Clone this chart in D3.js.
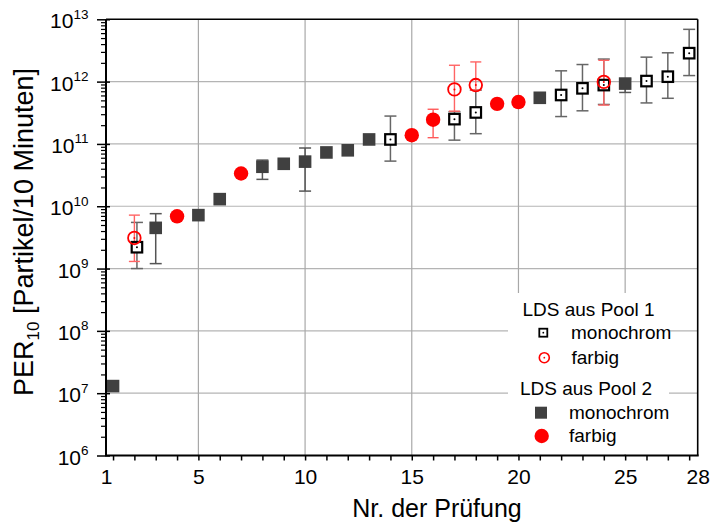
<!DOCTYPE html>
<html>
<head>
<meta charset="utf-8">
<script src="https://cdn.jsdelivr.net/npm/d3@7"></script>
<style>
  body { margin: 0; background: #fff; }
  svg text { font-family: "Liberation Sans", Arial, sans-serif; fill: #000; }
</style>
</head>
<body>
<svg id="chart" width="712" height="527"></svg>
<script>
// [Nr., value, lower, upper]  (null = no error bar)
var pool1Mono = [
	[2.12, 2.2e9, 1.0e9, 5.5e9],
	[14, 1.18e11, 5.3e10, 2.8e11],
	[17, 2.5e11, 1.15e11, 3.3e11],
	[18, 3.2e11, 1.46e11, 7.3e11],
	[22, 6.1e11, 2.75e11, 1.49e12],
	[23, 7.8e11, 3.4e11, 1.88e12],
	[24, 8.8e11, 4.3e11, 2.3e12],
	[26, 1.02e12, 4.55e11, 2.47e12],
	[27, 1.2e12, 5.4e11, 2.9e12],
	[28, 2.86e12, 1.25e12, 6.9e12]
];
var pool1Color = [
	[2, 3.1e9, 1.3e9, 7.2e9],
	[17, 7.5e11, 3.35e11, 1.83e12],
	[18, 8.8e11, 7.3e11, 2.07e12],
	[24, 9.9e11, 4.2e11, 2.2e12]
];
var pool2Mono = [
	[1, 1.3e7, null, null],
	[3, 4.5e9, 1.2e9, 7.6e9],
	[5, 7.2e9, null, null],
	[6, 1.3e10, null, null],
	[8, 4.3e10, 2.7e10, 5.5e10],
	[9, 4.8e10, null, null],
	[10, 5.2e10, 1.75e10, 8.6e10],
	[11, 7.3e10, null, null],
	[12, 7.9e10, null, null],
	[13, 1.18e11, null, null],
	[21, 5.5e11, null, null],
	[25, 9.3e11, 6.7e11, 1.1e12]
];
var pool2Color = [
	[4, 6.9e9, null, null],
	[7, 3.35e10, null, null],
	[15, 1.38e11, null, null],
	[16, 2.45e11, 1.26e11, 3.6e11],
	[19, 4.4e11, null, null],
	[20, 4.7e11, null, null]
];
var xTicks = [1, 5, 10, 15, 20, 25, 28];
var yDecades = [6, 7, 8, 9, 10, 11, 12, 13];

var svg = d3.select("#chart");
var pLeft = 106, pRight = 697.7, pTop = 19.3, pBottom = 455.5;

var x = d3.scaleLinear().domain([0.67, 28.4]).range([pLeft, pRight]);
var y = d3.scaleLog().domain([1e6, 1e13]).range([pBottom, pTop]);

// the first and last labels sit on the axis ends
function tickPos(v) {
	if (v == 1) return x.domain()[0];
	if (v == 28) return x.domain()[1];
	return v;
}

// grid
var grid = svg.append("g");
grid.selectAll(".hg")
  .data(yDecades.slice(1, -1))
  .enter().append("line")
  .attr("x1", pLeft).attr("x2", pRight)
  .attr("y1", d=>y(Math.pow(10, d))).attr("y2", d=>y(Math.pow(10, d)))
  .style("stroke", "#b4b4b4").style("stroke-width", 1.2);
grid.selectAll(".vg")
  .data(xTicks.slice(1, -1))
  .enter().append("line")
  .attr("x1", d=>x(d)).attr("x2", d=>x(d))
  .attr("y1", pTop).attr("y2", pBottom)
  .style("stroke", "#a8a8a8").style("stroke-width", 1.2);

// error bars
function errorBars(data, color, width, cap) {
	var g = svg.append("g")
	  .style("stroke", color)
	  .style("stroke-width", width);
	var rows = data.filter(d=>d[2] != null);
	g.selectAll(".bar").data(rows).enter().append("line")
	  .attr("x1", d=>x(d[0])).attr("x2", d=>x(d[0]))
	  .attr("y1", d=>y(d[2])).attr("y2", d=>y(d[3]));
	[2, 3].forEach(k=>{
		g.selectAll(".cap" + k).data(rows).enter().append("line")
		  .attr("x1", d=>x(d[0]) - cap / 2).attr("x2", d=>x(d[0]) + cap / 2)
		  .attr("y1", d=>y(d[k])).attr("y2", d=>y(d[k]));
	});
}
errorBars(pool2Mono, "#555", 1.5, 12);
errorBars(pool1Mono, "#666", 1.5, 12);
errorBars(pool2Color, "#ff5a5a", 1.4, 11);
errorBars(pool1Color, "#ff6464", 1.4, 11);

// markers
function filledSquares(g, data) {
	g.selectAll(".fs").data(data).enter().append("rect")
	  .attr("x", d=>x(d[0]) - 6.3).attr("y", d=>y(d[1]) - 6.3)
	  .attr("width", 12.6).attr("height", 12.6)
	  .style("fill", "#404040");
}
function filledCircles(g, data) {
	g.selectAll(".fc").data(data).enter().append("circle")
	  .attr("cx", d=>x(d[0])).attr("cy", d=>y(d[1])).attr("r", 7.2)
	  .style("fill", "#ff0000");
}
function openSquares(g, data, s) {
	g.selectAll(".os").data(data).enter().append("rect")
	  .attr("x", d=>x(d[0]) - s / 2).attr("y", d=>y(d[1]) - s / 2)
	  .attr("width", s).attr("height", s)
	  .style("fill", "#fff").style("stroke", "#000").style("stroke-width", 2.2);
	g.selectAll(".osd").data(data).enter().append("circle")
	  .attr("cx", d=>x(d[0])).attr("cy", d=>y(d[1])).attr("r", 1)
	  .style("fill", "#000");
}
function openCircles(g, data, r) {
	g.selectAll(".oc").data(data).enter().append("circle")
	  .attr("cx", d=>x(d[0])).attr("cy", d=>y(d[1])).attr("r", r)
	  .style("fill", "none").style("stroke", "#ff0000").style("stroke-width", 1.8);
	g.selectAll(".ocd").data(data).enter().append("circle")
	  .attr("cx", d=>x(d[0])).attr("cy", d=>y(d[1])).attr("r", 1)
	  .style("fill", "#ff0000");
}
var marks = svg.append("g");
filledSquares(marks, pool2Mono);
filledCircles(marks, pool2Color);
openSquares(marks, pool1Mono, 10.5);
openCircles(marks, pool1Color, 6.3);

// axes
var xMinor = d3.range(1, 29);
svg.append("g")
  .attr("transform", "translate(0," + pBottom + ")")
  .call(d3.axisBottom(x).tickValues(xMinor).tickSize(5).tickFormat(""))
  .call(g=>g.select(".domain").remove())
  .selectAll("line").style("stroke-width", 1.5);
var xAxis = svg.append("g")
  .attr("transform", "translate(0," + pBottom + ")")
  .call(d3.axisBottom(x)
    .tickValues(xTicks.map(tickPos))
    .tickSize(0).tickPadding(14)
    .tickFormat((d, i)=>xTicks[i]));
xAxis.select(".domain").remove();
xAxis.selectAll("text").style("font-size", "21px").attr("dy", "0.71em");

var yMinor = [];
yDecades.slice(0, -1).forEach(p=>{
	for (var m = 2; m < 10; m++) yMinor.push(m * Math.pow(10, p));
});
svg.append("g")
  .attr("transform", "translate(" + pLeft + ",0)")
  .call(d3.axisLeft(y).tickValues(yMinor).tickSize(5).tickFormat(""))
  .call(g=>g.select(".domain").remove())
  .selectAll("line").style("stroke-width", 1.2);
var yAxis = svg.append("g")
  .attr("transform", "translate(" + pLeft + ",0)")
  .call(d3.axisLeft(y)
    .tickValues(yDecades.map(p=>Math.pow(10, p)))
    .tickSize(9).tickPadding(9).tickFormat(""));
yAxis.select(".domain").remove();
yAxis.selectAll("line").attr("x2", -9).attr("x1", 4).style("stroke-width", 1.5);
yAxis.selectAll(".tick").each(function(d) {
	var t = d3.select(this).select("text")
	  .attr("x", -17.5).attr("dy", null)
	  .style("font-size", "21px").style("text-anchor", "end");
	t.append("tspan").attr("dy", "8.5").text("10");
	t.append("tspan").attr("dy", "-9.5").style("font-size", "13.5px")
	  .text(Math.round(Math.log10(d)));
});

// frame
svg.append("line").attr("x1", pLeft).attr("x2", pLeft).attr("y1", pTop).attr("y2", pBottom)
  .style("stroke", "#000").style("stroke-width", 2);
svg.append("line").attr("x1", pLeft - 1).attr("x2", pRight + 1).attr("y1", pBottom).attr("y2", pBottom)
  .style("stroke", "#000").style("stroke-width", 2);
svg.append("line").attr("x1", pLeft).attr("x2", pRight).attr("y1", pTop).attr("y2", pTop)
  .style("stroke", "#000").style("stroke-width", 1.6);
svg.append("line").attr("x1", pRight).attr("x2", pRight).attr("y1", pTop).attr("y2", pBottom)
  .style("stroke", "#000").style("stroke-width", 1.6);

// axis titles
svg.append("text")
  .attr("x", 437).attr("y", 517)
  .style("text-anchor", "middle").style("font-size", "25px")
  .text("Nr. der Prüfung");
var yt = svg.append("text")
  .attr("transform", "translate(33,232) rotate(-90)")
  .style("text-anchor", "middle").style("font-size", "27px");
yt.append("tspan").text("PER");
yt.append("tspan").attr("dy", 6).style("font-size", "17px").text("10");
yt.append("tspan").attr("dy", -6).text(" [Partikel/10 Minuten]");

// legend
var leg = svg.append("g");
leg.append("rect").attr("x", 508).attr("y", 293).attr("width", 161).attr("height", 161)
  .style("fill", "#fff");
var legendRows = [
	{text: "LDS aus Pool 1", tx: 522.5, ty: 309.5, head: true},
	{text: "monochrom", tx: 571, ty: 332, sx: 543.3, sy: 332.7, kind: "os"},
	{text: "farbig", tx: 571.5, ty: 357, sx: 544.3, sy: 357.7, kind: "oc"},
	{text: "LDS aus Pool 2", tx: 520, ty: 388.5, head: true},
	{text: "monochrom", tx: 569, ty: 412, sx: 541, sy: 412.7, kind: "fs"},
	{text: "farbig", tx: 569, ty: 435.5, sx: 541.7, sy: 436, kind: "fc"}
];
leg.selectAll(".lt").data(legendRows).enter().append("text")
  .attr("x", d=>d.tx).attr("y", d=>d.ty).attr("dy", "0.35em")
  .style("font-size", "19px")
  .text(d=>d.text);
legendRows.filter(d=>d.kind).forEach(d=>{
	if (d.kind == "os") {
		leg.append("rect").attr("x", d.sx - 4).attr("y", d.sy - 4).attr("width", 8).attr("height", 8)
		  .style("fill", "#fff").style("stroke", "#000").style("stroke-width", 1.8);
		leg.append("circle").attr("cx", d.sx).attr("cy", d.sy).attr("r", 0.9).style("fill", "#000");
	} else if (d.kind == "oc") {
		leg.append("circle").attr("cx", d.sx).attr("cy", d.sy).attr("r", 5)
		  .style("fill", "none").style("stroke", "#ff0000").style("stroke-width", 1.6);
		leg.append("circle").attr("cx", d.sx).attr("cy", d.sy).attr("r", 0.9).style("fill", "#ff0000");
	} else if (d.kind == "fs") {
		leg.append("rect").attr("x", d.sx - 6).attr("y", d.sy - 6).attr("width", 12).attr("height", 12)
		  .style("fill", "#404040");
	} else {
		leg.append("circle").attr("cx", d.sx).attr("cy", d.sy).attr("r", 7.2).style("fill", "#ff0000");
	}
});
</script>
</body>
</html>
